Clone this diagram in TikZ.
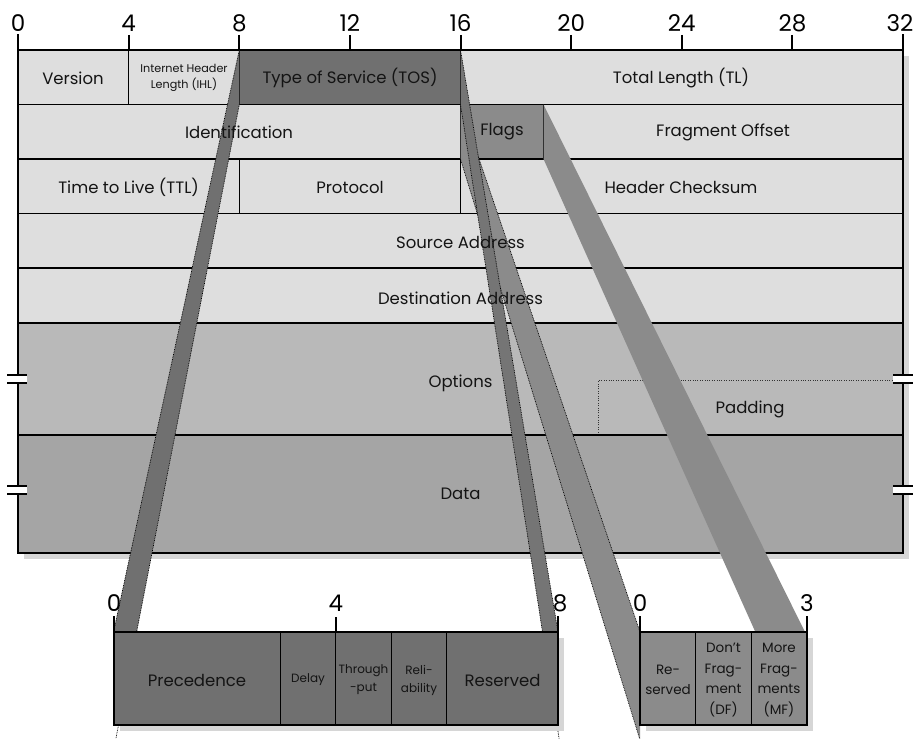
\documentclass[tikz,border=0pt]{standalone}
\usepackage{fontspec}
\setmainfont{Poppins}
\usetikzlibrary{calc}
\definecolor{light}{HTML}{DEDEDE}
\definecolor{opt}{HTML}{B9B9B9}
\definecolor{dat}{HTML}{A5A5A5}
\definecolor{tosc}{HTML}{707070}
\definecolor{flgc}{HTML}{8B8B8B}
\definecolor{shadowc}{HTML}{D6D6D6}
\definecolor{ink}{HTML}{141414}
\begin{document}
\begin{tikzpicture}[x=1pt,y=-1pt,
  lbl/.style={font=\fontsize{16.5}{19}\selectfont, text=ink, inner sep=0pt},
  smalllbl/.style={font=\fontsize{11.2}{16}\selectfont, text=ink, align=center, inner sep=0pt},
  midlbl/.style={font=\fontsize{12}{18}\selectfont, text=ink, align=center, inner sep=0pt},
  flaglbl/.style={font=\fontsize{13.5}{20.5}\selectfont, text=ink, align=center, inner sep=0pt},
  ticklbl/.style={font=\fontsize{23}{24}\selectfont, text=black, inner sep=0pt},
  inner/.style={line width=1.1pt, black},
  outer/.style={line width=2pt, black, line cap=rect},
  tickline/.style={line width=2pt, black},
  bandedge/.style={line width=0.7pt, black, dash pattern=on 0.8pt off 0.9pt},
  padline/.style={line width=0.9pt, black!80, dash pattern=on 1pt off 1.4pt},
  brk/.style={line width=1.8pt, black}
]
\useasboundingbox (0,0) rectangle (917,738);

% shadow of header
\fill[shadowc] (24,56) rectangle (909,559);

% fills
\fill[light] (18,50) rectangle (903,323);
\fill[opt] (18,323) rectangle (903,435);
\fill[dat] (18,435) rectangle (903,553);
\fill[tosc] (239.3,50) rectangle (460.5,104.5);
\fill[flgc] (460.5,104.5) rectangle (543.5,159);

% padding (dotted)
\draw[padline] (598.8,435) -- (598.8,380) -- (897,380);

% inner lines
\draw[inner] (18,104.5) -- (903,104.5);
\draw[inner] (18,159) -- (903,159);
\draw[inner] (18,213.5) -- (903,213.5);
\draw[inner] (18,268) -- (903,268);
\draw[inner] (18,323) -- (903,323);
\draw[inner] (18,435) -- (903,435);
\draw[inner] (128.6,50) -- (128.6,104.5);
\draw[inner] (239.3,50) -- (239.3,104.5);
\draw[inner] (460.5,50) -- (460.5,104.5);
\draw[inner] (460.5,104.5) -- (460.5,159);
\draw[inner] (543.5,104.5) -- (543.5,159);
\draw[inner] (239.3,159) -- (239.3,213.5);
\draw[inner] (460.5,159) -- (460.5,213.5);

% outer border and top scale ticks
\draw[outer] (18,35) -- (18,553) -- (903,553) -- (903,35);
\draw[outer] (18,50) -- (903,50);
\foreach \xx in {128.6,239.3,349.9,460.5,571.1,681.8,792.4}
  \draw[tickline] (\xx,35) -- (\xx,50);

% ---------- bands ----------
\coordinate (tosTL) at (239.3,50);
\coordinate (tosBL) at (239.3,104.5);
\coordinate (tosTR) at (460.5,50);
\coordinate (tosBR) at (460.5,104.5);
\coordinate (flTL) at (460.5,104.5);
\coordinate (flBL) at (460.5,159);
\coordinate (flTR) at (543.5,104.5);
\coordinate (flBR) at (543.5,159);
\coordinate (pTL) at (113.5,632);
\coordinate (pBL) at (113.5,725);
\coordinate (pTR) at (558,632);
\coordinate (pBR) at (558,725);
\coordinate (fTL) at (640,632);
\coordinate (fTR) at (807,632);
\coordinate (fBR) at (807,725);
% far ends of the band edges
\coordinate (eTL) at (118.5,725);
\coordinate (eTR) at (557,725);
\coordinate (eFL) at (640,740);
\coordinate (eFR) at (797,725);
\coordinate (eFRt) at (805,632);

% flags right band (no dotted edge)
\fill[flgc] (flTR) -- (eFRt) -- (eFR) -- (flBR) -- cycle;
% flags left band
\fill[flgc] (flTL) -- (fTL) -- (eFL) -- (flBL) -- cycle;
\draw[bandedge] (flTL) -- (fTL);
\draw[bandedge] (flBL) -- (eFL);
% TOS bands
\fill[tosc!80!flgc] (tosTR) -- (pTR) -- (eTR) -- (tosBR) -- cycle;
\draw[bandedge] (tosTR) -- (pTR);
\draw[bandedge] (tosBR) -- ($(tosBR)!1.025!(eTR)$);
\fill[tosc] (tosTL) -- (pTL) -- (eTL) -- (tosBL) -- cycle;
\draw[bandedge] (tosTL) -- (pTL);
\draw[bandedge] (tosBL) -- ($(tosBL)!1.022!(eTL)$);

% ---------- bottom boxes ----------
\fill[shadowc] (119.5,637.5) rectangle (563.5,730.5);
\fill[shadowc] (645.5,637.5) rectangle (812.5,730.5);
\fill[tosc] (pTL) rectangle (pBR);
\fill[flgc] (fTL) rectangle (fBR);
\foreach \xx in {280.2,335.75,391.3,446.9}
  \draw[inner] (\xx,632) -- (\xx,725);
\foreach \xx in {695.7,751.3}
  \draw[inner] (\xx,632) -- (\xx,725);
\draw[outer] (113.5,617) -- (pBL) -- (pBR) -- (558,617);
\draw[outer] (pTL) -- (pTR);
\draw[tickline] (335.75,617) -- (335.75,632);
\draw[outer] (640,617) -- (640,725) -- (fBR) -- (807,617);
\draw[outer] (fTL) -- (fTR);

% ---------- texts ----------
\node[lbl] (ver) at (73,78) {Version};
\node[smalllbl] (ihl) at (184,78) {Internet Header\\Length (IHL)};
\node[lbl] (tos) at (350,78) {Type of Service (TOS)};
\node[lbl] (tl) at (681,78) {Total Length (TL)};
\node[lbl] (ident) at (239,132) {Identification};
\node[lbl] (flags) at (502,132) {Flags};
\node[lbl] (fo) at (723,132) {Fragment Offset};
\node[lbl] (ttl) at (128.6,187) {Time to Live (TTL)};
\node[lbl] (proto) at (350,187) {Protocol};
\node[lbl] (hc) at (681,187) {Header Checksum};
\node[lbl] (src) at (460.5,242) {Source Address};
\node[lbl] (dst) at (460.5,298) {Destination Address};
\node[lbl] (opts) at (460.5,383) {Options};
\node[lbl] (pad) at (750,409) {Padding};
\node[lbl] (data) at (460.5,494) {Data};

\node[lbl] (prec) at (197,680) {Precedence};
\node[midlbl] (delay) at (308,680) {Delay};
\node[midlbl] (thr) at (363.5,680) {Through\\-put};
\node[midlbl] (rel) at (419,680) {Reli-\\ability};
\node[lbl] (resv) at (502.5,680) {Reserved};
\node[flaglbl] (fres) at (668,680) {Re-\\served};
\node[flaglbl] (df) at (723.5,680) {Don’t\\Frag-\\ment\\(DF)};
\node[flaglbl] (mf) at (779,680) {More\\Frag-\\ments\\(MF)};

% scale labels
\foreach \xx/\tt in {18/0,128.6/4,239.3/8,349.9/12,460.5/16,571.1/20,681.8/24,792.4/28,900/32}
  \node[ticklbl] at (\xx,23) {\tt};
\node[ticklbl] (b0) at (114,603.5) {0};
\node[ticklbl] (b4) at (335.75,603.5) {4};
\node[ticklbl] (b8) at (560,603.5) {8};
\node[ticklbl] (c0) at (640,603.5) {0};
\node[ticklbl] (c3) at (807,603.5) {3};

% ---------- break marks ----------
\foreach \xx in {17,903}{
  \foreach \yy in {379,490}{
    \fill[white] (\xx-10,\yy-3.5) rectangle (\xx+10,\yy+3.5);
    \draw[brk] (\xx-10,\yy-4) -- (\xx+10,\yy-4);
    \draw[brk] (\xx-10,\yy+4) -- (\xx+10,\yy+4);
  }
}
\end{tikzpicture}
\end{document}
